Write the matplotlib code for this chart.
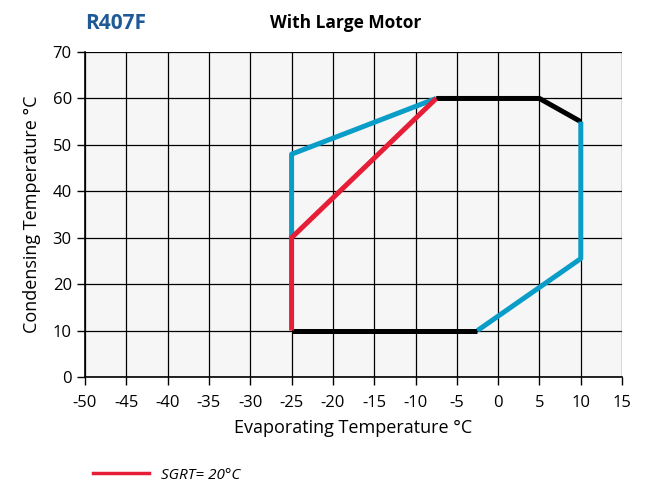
import matplotlib.pyplot as plt
from matplotlib.lines import Line2D

plt.rcParams["font.family"] = ["Open Sans", "DejaVu Sans"]
plt.rcParams["axes.unicode_minus"] = False

# envelope segments (evaporating °C, condensing °C)
black_bottom_x = [-25, -2.5]
black_bottom_y = [10, 10]
blue_right_x = [-2.5, 10, 10]
blue_right_y = [10, 25.5, 55]
black_top_x = [-7.5, 5, 10]
black_top_y = [60, 60, 55]
blue_left_x = [-7.5, -25, -25]
blue_left_y = [60, 48, 30]
red_x = [-25, -25, -7.5]
red_y = [10, 30, 60]

x_ticks = list(range(-50, 20, 5))
y_ticks = list(range(0, 80, 10))

BLUE = "#0a9dc8"
RED = "#e61e37"

fig = plt.figure(figsize=(6.46, 4.82), dpi=100)
ax = fig.add_axes([0.1316, 0.218, 0.8314, 0.674])
ax.set_facecolor("#f6f6f6")

ax.plot(black_bottom_x, black_bottom_y, color="black", lw=3.6, solid_capstyle="butt", zorder=3)
ax.plot(black_top_x, black_top_y, color="black", lw=3.6, solid_capstyle="butt", zorder=3)
ax.plot(blue_right_x, blue_right_y, color=BLUE, lw=3.6, solid_capstyle="butt", zorder=3)
ax.plot(blue_left_x, blue_left_y, color=BLUE, lw=3.6, solid_capstyle="butt", zorder=3)
ax.plot(red_x, red_y, color=RED, lw=3.6, solid_capstyle="butt", zorder=4)

ax.set_xlim(-50, 15)
ax.set_ylim(0, 70)
ax.set_xticks(x_ticks)
ax.set_yticks(y_ticks)
ax.grid(True, color="black", lw=0.9)
for s in ["top", "right"]:
    ax.spines[s].set_visible(False)
ax.spines["left"].set_linewidth(1.2)
ax.spines["bottom"].set_linewidth(1.2)
ax.tick_params(length=6, width=1, labelsize=12)
ax.tick_params(axis="x", pad=7)

ax.set_xlabel("Evaporating Temperature °C", fontsize=13, labelpad=6)
ax.set_ylabel("Condensing Temperature °C", fontsize=13, labelpad=8)

fig.text(0.1316, 0.952, "R407F", color="#1f5a96", fontsize=15, fontweight="bold", va="center")
fig.text(0.535, 0.952, "With Large Motor", fontsize=12.5, fontweight="bold", va="center", ha="center")

handle = Line2D([], [], color=RED, lw=2.5)
fig.legend([handle], ["SGRT= 20°C"], loc="lower left", bbox_to_anchor=(0.122, -0.03),
           frameon=False, handlelength=3.7, prop={"style": "italic", "size": 11})

fig.savefig("out.png", dpi=100)
